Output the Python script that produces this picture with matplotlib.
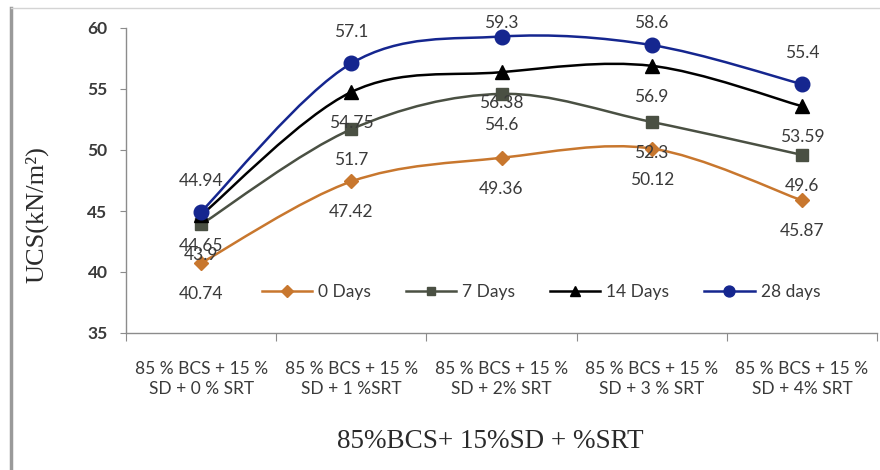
import numpy as np
import matplotlib
matplotlib.use('Agg')
import matplotlib.pyplot as plt
from matplotlib.path import Path
from matplotlib.patches import PathPatch
from matplotlib.lines import Line2D

#Mix designs and curing periods
mixes = ['85 % BCS + 15 %\nSD + 0 % SRT',
         '85 % BCS + 15 %\nSD + 1 %SRT',
         '85 % BCS + 15 %\nSD + 2% SRT',
         '85 % BCS + 15 %\nSD + 3 % SRT',
         '85 % BCS + 15 %\nSD + 4% SRT']

series_names = ['0 Days', '7 Days', '14 Days', '28 days']

#UCS values (kN/m2)
ucs_0  = [40.74, 47.42, 49.36, 50.12, 45.87]
ucs_7  = [43.9, 51.7, 54.6, 52.3, 49.6]
ucs_14 = [44.65, 54.75, 56.38, 56.9, 53.59]
ucs_28 = [44.94, 57.1, 59.3, 58.6, 55.4]

y_ticks = [35, 40, 45, 50, 55, 60]

###Styles###
colors  = ['#C8772E', '#4A5043', '#000000', '#15268F']
markers = ['D', 's', '^', 'o']
msizes  = [7.5, 8.5, 10, 10.5]
label_above = [False, False, False, True]

sans  = 'Lato'
serif = 'Liberation Serif'
text_col = '#3A3A3A'


def smooth_path(x, y):
    #Excel-style smoothed line: cubic Bezier through each point
    pts = np.column_stack([x, y]).astype(float)
    n = len(pts)
    verts = [pts[0]]
    codes = [Path.MOVETO]
    for i in range(n - 1):
        p0 = pts[i - 1] if i > 0 else pts[i]
        p1 = pts[i]
        p2 = pts[i + 1]
        p3 = pts[i + 2] if i + 2 < n else pts[i + 1]
        c1 = p1 + (p2 - p0) / 6.0
        c2 = p2 - (p3 - p1) / 6.0
        verts += [c1, c2, p2]
        codes += [Path.CURVE4] * 3
    return Path(verts, codes)


fig = plt.figure(figsize=(8.8, 4.7), dpi=100)
ax = fig.add_axes([126/880, 1 - 333/470, (877 - 126)/880, (333 - 28)/470])

x = np.arange(len(mixes))
data = [ucs_0, ucs_7, ucs_14, ucs_28]

for vals, name, col, mk, ms in zip(data, series_names, colors, markers, msizes):
    ax.add_patch(PathPatch(smooth_path(x, vals), facecolor='none',
                           edgecolor=col, lw=1.8, zorder=2))
    ax.plot(x, vals, linestyle='none', marker=mk, markersize=ms, color=col,
            zorder=3)

ax.set_xlim(-0.5, len(mixes) - 0.5)
ax.set_ylim(35, 60)

#Data labels, kept inside the plot area at the top
top_px = ax.transData.transform((0, 60))[1]
for vals, above in zip(data, label_above):
    for xi, v in zip(x, vals):
        py = ax.transData.transform((xi, v))[1]
        if above:
            off = min(31, top_px + 5 - py)
        else:
            off = -31
        ax.annotate(f'{v:g}', (xi, v), xytext=(0, off * 0.72),
                    textcoords='offset points', ha='center', va='center',
                    fontsize=12.5, family=sans, color=text_col, zorder=4,
                    annotation_clip=False)

#Axes styling
for s in ['top', 'right']:
    ax.spines[s].set_visible(False)
for s in ['left', 'bottom']:
    ax.spines[s].set_color('#8C8C8C')
    ax.spines[s].set_linewidth(1.0)

ax.set_yticks(y_ticks)
ax.tick_params(axis='y', direction='out', length=4.3, color='#8C8C8C',
               labelsize=12.5, labelcolor=text_col, pad=9)
for t in ax.get_yticklabels():
    t.set_family(sans)
    t.set_fontweight('bold')

ax.set_xticks(np.arange(-0.5, len(mixes)), minor=False)
ax.set_xticklabels([])
ax.set_xticks(x, minor=True)
ax.set_xticklabels(mixes, minor=True, family=sans, fontsize=12.5,
                   color=text_col, linespacing=1.3)
ax.tick_params(axis='x', which='major', direction='out', length=6,
               color='#8C8C8C')
ax.tick_params(axis='x', which='minor', length=0, pad=20)

fig.text(37/880, 1 - 215/470, 'UCS(kN/m²)', family=serif, fontsize=19,
         color='#2A2A2A', ha='center', va='center', rotation=90)
fig.text(490/880, 1 - 442/470, '85%BCS+ 15%SD + %SRT', family=serif,
         fontsize=19.5, color='#2A2A2A', ha='center', va='center')

handles = [Line2D([], [], color=c, marker=m, markersize=ms * 0.75, lw=1.8)
           for c, m, ms in zip(colors, markers, msizes)]
leg = ax.legend(handles, series_names, ncol=4, frameon=False, loc='center',
                bbox_to_anchor=(541/880, 1 - 292/470),
                bbox_transform=fig.transFigure,
                prop={'family': sans, 'size': 12.5}, handlelength=2.9,
                handletextpad=0.35, columnspacing=2.0)
for t in leg.get_texts():
    t.set_color(text_col)

#Outer chart border
fig.add_artist(Line2D([11/880, 11/880], [0, 1 - 8/470], color='#9A9A9A',
                      lw=2.5, transform=fig.transFigure))
fig.add_artist(Line2D([11/880, 1], [1 - 8/470, 1 - 8/470], color='#D4D4D4',
                      lw=1.0, transform=fig.transFigure))

fig.savefig('out.png', dpi=100)
